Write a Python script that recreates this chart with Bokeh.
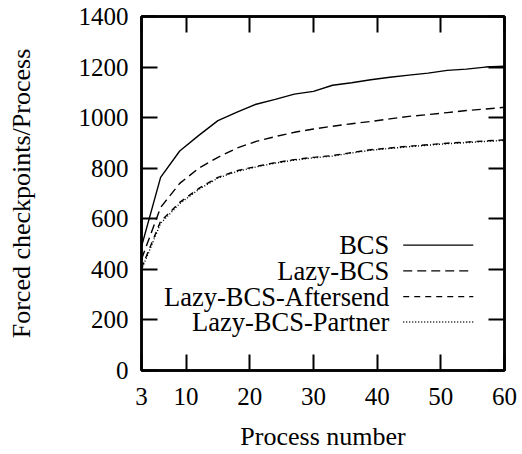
from bokeh.plotting import figure
from bokeh.models import Range1d, FixedTicker, LinearAxis, Label
from bokeh.embed import file_html
from bokeh.resources import INLINE

# ---- data ----
process_number = [3, 6, 9, 12, 15, 18, 21, 24, 27, 30, 33, 36, 39, 42, 45, 48, 51, 54, 57, 60]
bcs = [490, 764, 868, 930, 988, 1022, 1053, 1072, 1093, 1104, 1128, 1138, 1150, 1160, 1168, 1176, 1187, 1192, 1200, 1203]
lazy_bcs = [440, 645, 740, 800, 843, 880, 906, 925, 942, 955, 966, 976, 985, 995, 1005, 1012, 1020, 1028, 1034, 1041]
lazy_aftersend = [405, 590, 665, 720, 764, 790, 807, 822, 834, 843, 850, 862, 873, 880, 887, 893, 899, 903, 908, 912]
lazy_partner = [398, 582, 660, 716, 761, 787, 805, 820, 832, 841, 848, 860, 871, 878, 885, 891, 897, 901, 906, 910]

series_names = ["BCS", "Lazy-BCS", "Lazy-BCS-Aftersend", "Lazy-BCS-Partner"]
series_values = [bcs, lazy_bcs, lazy_aftersend, lazy_partner]
series_dash = ["solid", "9 5", "6 5", "1 2"]

x_ticks = [3, 10, 20, 30, 40, 50, 60]
y_ticks = [0, 200, 400, 600, 800, 1000, 1200, 1400]

FONT = "Liberation Serif"

p = figure(width=522, height=454, output_backend="svg", toolbar_location=None,
           x_range=Range1d(3, 60), y_range=Range1d(0, 1400),
           min_border_left=141, min_border_right=18, min_border_top=16, min_border_bottom=84)
p.grid.visible = False
p.outline_line_color = "black"
p.outline_line_width = 2.5
p.background_fill_color = "white"
p.border_fill_color = "white"

def style_axis(ax, labels=True, ticks=None):
    ax.axis_line_color = "black"
    ax.axis_line_width = 2.5
    ax.major_tick_line_width = 2
    ax.major_tick_in = 16
    ax.major_tick_out = 0
    ax.minor_tick_line_color = None
    if labels:
        ax.major_label_text_font = FONT
        ax.major_label_text_font_size = "25px"
        ax.major_label_text_color = "black"
        ax.axis_label_text_font = FONT
        ax.axis_label_text_font_size = "26px"
        ax.axis_label_text_font_style = "normal"
        ax.axis_label_text_color = "black"
    else:
        ax.major_label_overrides = {t: "" for t in ticks}
        ax.major_label_standoff = 0

p.xaxis.ticker = FixedTicker(ticks=x_ticks)
p.yaxis.ticker = FixedTicker(ticks=y_ticks)
style_axis(p.xaxis[0])
style_axis(p.yaxis[0])
p.xaxis.axis_label = "Process number"
p.yaxis.axis_label = "Forced checkpoints/Process"
p.xaxis.major_label_standoff = 17
p.yaxis.major_label_standoff = 13
p.xaxis.axis_label_standoff = 14
p.yaxis.axis_label_standoff = 40

top = LinearAxis(ticker=FixedTicker(ticks=x_ticks))
style_axis(top, labels=False, ticks=x_ticks)
p.add_layout(top, "above")
right = LinearAxis(ticker=FixedTicker(ticks=y_ticks))
style_axis(right, labels=False, ticks=y_ticks)
p.add_layout(right, "right")

for name, vals, dash in zip(series_names, series_values, series_dash):
    p.line(process_number, vals, line_color="black", line_width=1.4, line_dash=dash)

# legend (label on the left, sample on the right)
leg_text_x = 41.9
leg_x0, leg_x1 = 44.1, 55.1
leg_y = [496, 394, 292, 192]
for name, dash, y in zip(series_names, series_dash, leg_y):
    p.add_layout(Label(x=leg_text_x, y=y, text=name, text_align="right", text_baseline="middle",
                       text_font=FONT, text_font_size="26.5px", text_color="black"))
    p.segment(x0=[leg_x0], y0=[y], x1=[leg_x1], y1=[y], line_color="black", line_width=1.4, line_dash=dash)

open("out.html", "w").write(file_html(p, INLINE))
